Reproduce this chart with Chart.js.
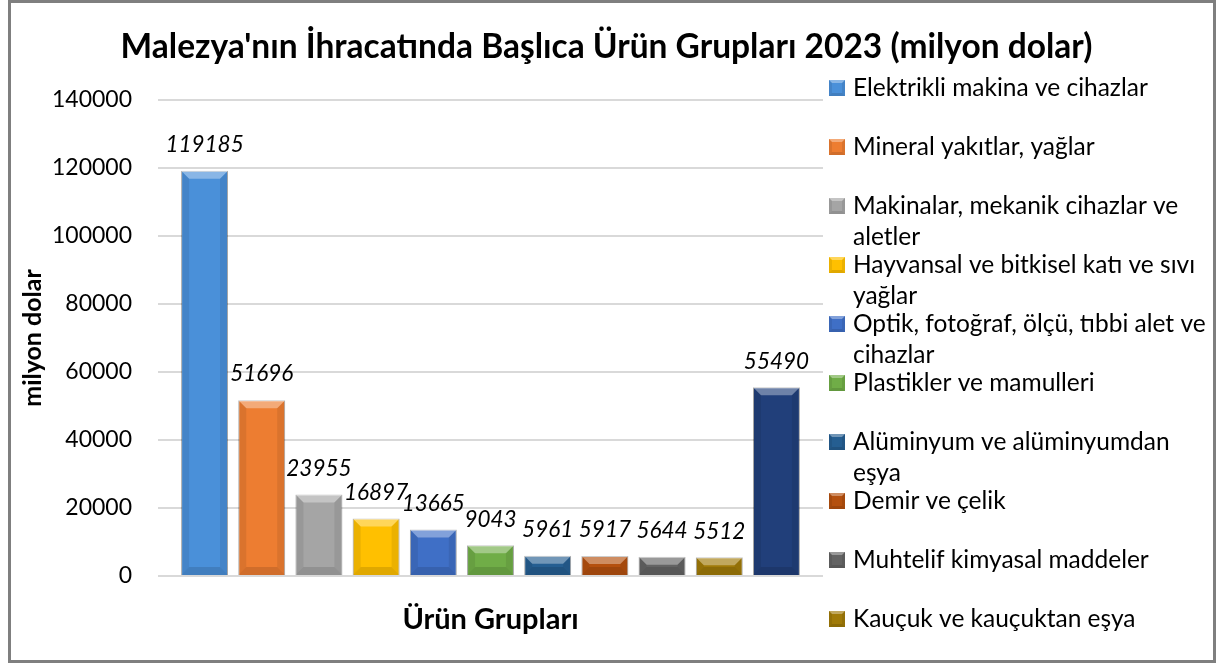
<!DOCTYPE html>
<html>
<head>
<meta charset="utf-8">
<script src="https://cdn.jsdelivr.net/npm/chart.js@4.4.1/dist/chart.umd.min.js"></script>
<style>
  html, body { margin: 0; padding: 0; background: #fff; }
  #kutu { position: relative; width: 1219px; height: 663px; }
  #cerceve { position: absolute; left: 8px; top: 0; width: 1208px; height: 663px;
             border: 3px solid #7f7f7f; box-sizing: border-box; pointer-events: none; }
</style>
</head>
<body>
<div id="kutu">
  <canvas id="grafik" width="1219" height="663"></canvas>
  <div id="cerceve"></div>
</div>
<script>
// ürün grupları (her biri ayrı seri, tek kategori)
const urunGruplari = [
  'Elektrikli makina ve cihazlar',
  'Mineral yakıtlar, yağlar',
  'Makinalar, mekanik cihazlar ve aletler',
  'Hayvansal ve bitkisel katı ve sıvı yağlar',
  'Optik, fotoğraf, ölçü, tıbbi alet ve cihazlar',
  'Plastikler ve mamulleri',
  'Alüminyum ve alüminyumdan eşya',
  'Demir ve çelik',
  'Muhtelif kimyasal maddeler',
  'Kauçuk ve kauçuktan eşya',
  'Diğer'
];

// ihracat değerleri (milyon dolar)
const ihracat = [119185, 51696, 23955, 16897, 13665, 9043, 5961, 5917, 5644, 5512, 55490];

// Office tema renkleri
const renkler = ['#4a90d9', '#ed7d31', '#a5a5a5', '#ffc000', '#3f6fc6', '#70ad47',
                 '#255e91', '#b4500f', '#636363', '#a07a08', '#213f7a'];

const yEksenEtiketleri = [0, 20000, 40000, 60000, 80000, 100000, 120000, 140000];

const baslik = "Malezya'nın İhracatında Başlıca Ürün Grupları 2023 (milyon dolar)";

const yaziTipi = 'Lato, "Open Sans", sans-serif';

// Excel'deki kabartma (bevel) görünümü
function kabartma(ctx, x, y, w, h, b) {
  b = Math.min(b, w / 2, h / 2);
  ctx.save();
  ctx.fillStyle = 'rgba(255,255,255,0.35)';
  ctx.beginPath();
  ctx.moveTo(x, y); ctx.lineTo(x + w, y); ctx.lineTo(x + w - b, y + b); ctx.lineTo(x + b, y + b);
  ctx.closePath(); ctx.fill();
  ctx.fillStyle = 'rgba(0,0,0,0.08)';
  ctx.beginPath();
  ctx.moveTo(x, y); ctx.lineTo(x + b, y + b); ctx.lineTo(x + b, y + h - b); ctx.lineTo(x, y + h);
  ctx.closePath(); ctx.fill();
  ctx.beginPath();
  ctx.moveTo(x + w, y); ctx.lineTo(x + w - b, y + b); ctx.lineTo(x + w - b, y + h - b); ctx.lineTo(x + w, y + h);
  ctx.closePath(); ctx.fill();
  ctx.fillStyle = 'rgba(0,0,0,0.12)';
  ctx.beginPath();
  ctx.moveTo(x, y + h); ctx.lineTo(x + b, y + h - b); ctx.lineTo(x + w - b, y + h - b); ctx.lineTo(x + w, y + h);
  ctx.closePath(); ctx.fill();
  ctx.restore();
}

// (1) başlık - tüm genişliğe göre ortalı
const ustBaslik = {
  id: 'ustBaslik',
  afterDraw(chart) {
    const ctx = chart.ctx;
    ctx.save();
    ctx.font = 'bold 33.5px ' + yaziTipi;
    ctx.fillStyle = '#000';
    ctx.textAlign = 'center';
    ctx.textBaseline = 'middle';
    ctx.fillText(baslik, chart.width / 2 - 3, 47);
    ctx.restore();
  }
};

// (2) bar kabartması ve üstündeki italik değer etiketleri
const degerEtiketleri = {
  id: 'degerEtiketleri',
  afterDatasetsDraw(chart) {
    const ctx = chart.ctx;
    ctx.save();
    chart.data.datasets.forEach((ds, i) => {
      const bar = chart.getDatasetMeta(i).data[0];
      kabartma(ctx, bar.x - bar.width / 2, bar.y, bar.width, bar.base - bar.y, 8);
    });
    ctx.font = 'italic 22.5px ' + yaziTipi;
    ctx.fillStyle = '#000';
    ctx.textAlign = 'center';
    ctx.textBaseline = 'middle';
    chart.data.datasets.forEach((ds, i) => {
      const bar = chart.getDatasetMeta(i).data[0];
      ctx.fillText(String(ds.data[0]), bar.x, bar.y - 26);
    });
    ctx.restore();
  }
};

// (3) sağdaki lejant - Excel gibi eşit aralıklı, satır kaydırmalı
function satirSar(ctx, metin, genislik) {
  const kelimeler = metin.split(' ');
  const satirlar = [];
  let satir = '';
  kelimeler.forEach(k => {
    const deneme = satir ? satir + ' ' + k : k;
    if (ctx.measureText(deneme).width > genislik && satir) {
      satirlar.push(satir);
      satir = k;
    } else {
      satir = deneme;
    }
  });
  if (satir) satirlar.push(satir);
  return satirlar;
}

const sagLejant = {
  id: 'sagLejant',
  afterDraw(chart) {
    const ctx = chart.ctx;
    const x0 = chart.chartArea.right + 6;
    const y0 = 88, adim = 59;
    ctx.save();
    ctx.font = '24.5px ' + yaziTipi;
    ctx.textBaseline = 'middle';
    chart.data.datasets.forEach((ds, i) => {
      const y = y0 + i * adim;
      if (y > 640) return; // Excel'de son seri kesilmiş
      ctx.fillStyle = ds.backgroundColor;
      ctx.fillRect(x0, y - 8, 16, 16);
      kabartma(ctx, x0, y - 8, 16, 16, 3);
      ctx.fillStyle = '#000';
      satirSar(ctx, ds.label, 362).forEach((s, j) => {
        ctx.fillText(s, x0 + 24, y + j * 31);
      });
    });
    ctx.restore();
  }
};

const veriSetleri = urunGruplari.map((ad, i) => ({
  label: ad,
  data: [ihracat[i]],
  backgroundColor: renkler[i],
  borderColor: 'rgba(0,0,0,0.3)',
  borderWidth: 1
}));

new Chart(document.getElementById('grafik'), {
  type: 'bar',
  data: {
    labels: ['2023'],
    datasets: veriSetleri
  },
  options: {
    responsive: false,
    animation: false,
    layout: { padding: { left: 18, right: 396, top: 100, bottom: 4 } },
    datasets: { bar: { categoryPercentage: 0.946, barPercentage: 0.82 } },
    plugins: {
      legend: { display: false },
      tooltip: { enabled: false },
      title: { display: false }
    },
    scales: {
      x: {
        ticks: { display: false },
        grid: { display: false },
        border: { display: false },
        title: {
          display: true,
          text: 'Ürün Grupları',
          font: { family: yaziTipi, size: 29, weight: 'bold' },
          color: '#000',
          padding: { top: 18.6, bottom: 21.6 }
        }
      },
      y: {
        min: 0,
        max: 140000,
        afterBuildTicks(axis) {
          axis.ticks = yEksenEtiketleri.map(v => ({ value: v }));
        },
        afterFit(axis) { axis.width = 140; },
        ticks: {
          font: { family: yaziTipi, size: 23 },
          color: '#000',
          padding: 26,
          callback: v => String(v)
        },
        grid: { color: '#d9d9d9', lineWidth: 2, drawTicks: false },
        border: { display: false },
        title: {
          display: true,
          text: 'milyon dolar',
          font: { family: yaziTipi, size: 25, weight: 'bold' },
          color: '#000',
          padding: { top: 0, bottom: 6 }
        }
      }
    }
  },
  plugins: [degerEtiketleri, sagLejant, ustBaslik]
});
</script>
</body>
</html>
